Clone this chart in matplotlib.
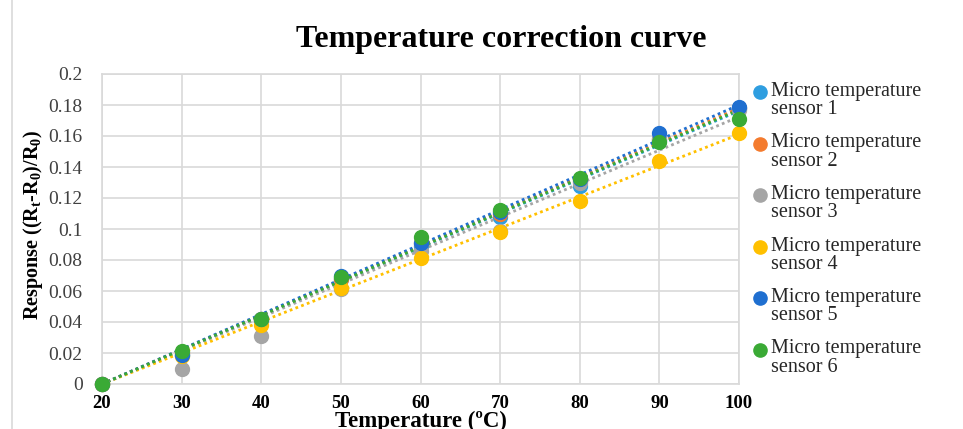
import numpy as np
import matplotlib.pyplot as plt
from matplotlib.lines import Line2D

plt.rcParams['font.family'] = ['Liberation Serif', 'DejaVu Serif']

# data
temps = [20, 30, 40, 50, 60, 70, 80, 90, 100]
sensor1 = [0, 0.019, 0.041, 0.068, 0.089, 0.108, 0.128, 0.157, 0.178]
sensor2 = [0, 0.020, 0.042, 0.068, 0.091, 0.110, 0.131, 0.158, 0.178]
sensor3 = [0, 0.010, 0.031, 0.061, 0.086, 0.099, 0.130, 0.158, 0.177]
sensor4 = [0, 0.018, 0.038, 0.062, 0.081, 0.098, 0.118, 0.144, 0.162]
sensor5 = [0, 0.019, 0.042, 0.070, 0.091, 0.111, 0.132, 0.162, 0.179]
sensor6 = [0, 0.021, 0.042, 0.069, 0.095, 0.112, 0.133, 0.156, 0.171]
labels = ["Micro temperature\nsensor %d" % i for i in range(1, 7)]
yticks = [0, 0.02, 0.04, 0.06, 0.08, 0.1, 0.12, 0.14, 0.16, 0.18, 0.2]
ytick_labels = ["0", "0.02", "0.04", "0.06", "0.08", "0.1", "0.12", "0.14", "0.16", "0.18", "0.2"]

colors = ['#2f9ee0', '#f47b2e', '#a5a5a5', '#ffc000', '#1f6fd0', '#3aaa35']
series = [sensor1, sensor2, sensor3, sensor4, sensor5, sensor6]

W, H = 963, 429
fig = plt.figure(figsize=(W / 100, H / 100), dpi=100)
ax = fig.add_axes([102 / W, 1 - 384 / H, 637 / W, 310 / H])

x = np.array(temps)
for ys, c in zip(series, colors):
    ax.plot(x, ys, 'o', color=c, ms=10, zorder=3, clip_on=False)
# linear trendlines, intercept fixed at the first point (20, 0)
for ys, c in zip(series, colors):
    y = np.array(ys)
    k = np.sum((x - 20) * y) / np.sum((x - 20) ** 2)
    ax.plot(x, k * (x - 20), color=c, lw=2, ls=(0, (1, 1.2)), zorder=2)

ax.set_xlim(20, 100)
ax.set_ylim(0, 0.2)
ax.set_xticks(temps)
ax.set_yticks(yticks)
ax.set_yticklabels(ytick_labels)
ax.grid(color='#d9d9d9', lw=1.2)
ax.set_axisbelow(True)
for s in ax.spines.values():
    s.set_color('#d9d9d9')
    s.set_linewidth(1.2)
ax.tick_params(length=0)
ax.tick_params(axis='y', labelsize=14, colors='#404040', pad=14)
ax.tick_params(axis='x', pad=8)
for t in ax.get_xticklabels():
    t.set_fontweight('bold')
    t.set_fontsize(13.5)

ax.set_xlabel("Temperature (ºC)", fontsize=16.5, fontweight='bold')
ax.xaxis.set_label_coords(0.5, -0.085)
ax.xaxis.label.set_va('top')
ax.set_ylabel("Response ((R$_\\mathregular{t}$-R$_\\mathregular{0}$)/R$_\\mathregular{0}$)",
              fontsize=14.5, fontweight='bold')
ax.yaxis.set_label_coords(-0.108, 0.513)
ax.yaxis.label.set_va('center')
fig.text(0.52, 1 - 39 / H, "Temperature correction curve", ha='center', va='center',
         fontsize=23, fontweight='bold')

# legend drawn by hand so the marker sits on the first text line
for i, (lab, c) in enumerate(zip(labels, colors)):
    yy = 92 + 51.5 * i
    fig.add_artist(Line2D([760 / W], [1 - yy / H], marker='o', ls='', color=c, ms=9.5))
    fig.text(771 / W, 1 - (yy - 10) / H, lab, ha='left', va='top', fontsize=14.5,
             color='#262626', linespacing=0.95)

fig.add_artist(Line2D([0.0125, 0.0125], [0, 1], color='#d9d9d9', lw=1.2))

fig.savefig("out.png", dpi=100)
